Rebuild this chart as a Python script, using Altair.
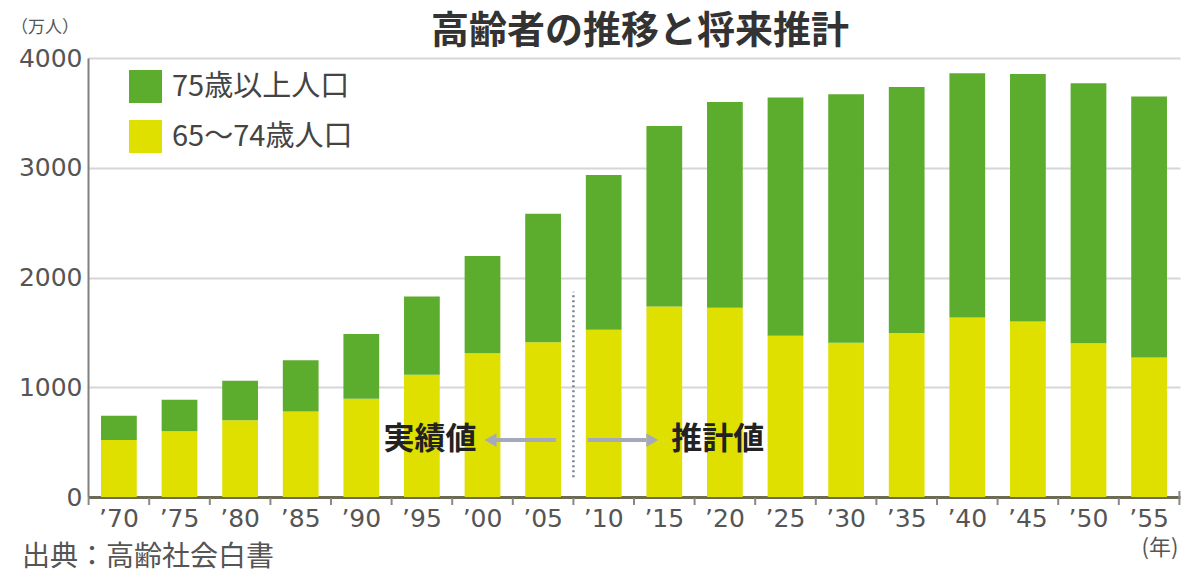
import altair as alt
import pandas as pd

# Elderly population of Japan (10,000 persons), actual up to 2005, projected after
years = ["’70", "’75", "’80", "’85", "’90", "’95", "’00", "’05", "’10",
         "’15", "’20", "’25", "’30", "’35", "’40", "’45", "’50", "’55"]
age_65_74 = [520, 600, 700, 780, 895, 1115, 1310, 1410, 1525,
             1735, 1725, 1470, 1405, 1495, 1635, 1600, 1400, 1270]
age_75_over = [220, 286, 360, 465, 590, 711, 885, 1170, 1410,
               1645, 1875, 2170, 2265, 2240, 2225, 2255, 2370, 2380]
series_names = ["75歳以上人口", "65〜74歳人口"]
series_colors = ["#5cac2e", "#dfe000"]
y_ticks = [0, 1000, 2000, 3000, 4000]

rows = []
for i, yr in enumerate(years):
    rows.append({"year": yr, "group": series_names[1], "value": age_65_74[i], "stack_rank": 0})
    rows.append({"year": yr, "group": series_names[0], "value": age_75_over[i], "stack_rank": 1})
bars_df = pd.DataFrame(rows)

JP = "Noto Sans CJK JP"
NUM = "DejaVu Sans"
ARROW = "#a4aabb"
PLOT_W, PLOT_H = 1092, 439
HALF_STEP = PLOT_W / (len(years) - 0.41 + 2 * 0.215) / 2

x_scale = alt.Scale(domain=years, paddingInner=0.41, paddingOuter=0.215)
y_scale = alt.Scale(domain=[0, 4000], nice=False)

bars = alt.Chart(bars_df).mark_bar().encode(
    x=alt.X("year:N", scale=x_scale, sort=years, title=None,
            axis=alt.Axis(title=None, labelAngle=0, labelFont=NUM, labelFontSize=25,
                          labelColor="#555", labelPadding=9, ticks=False,
                          domainColor="#6a6a55", domainWidth=3, grid=False)),
    y=alt.Y("value:Q", stack="zero", scale=y_scale, title=None,
            axis=alt.Axis(values=y_ticks, title=None, format="d", labelFont=NUM,
                          labelFontSize=25, labelColor="#555", labelPadding=6,
                          ticks=False, domainColor="#808080", domainWidth=2,
                          gridColor="#d6d6da", gridWidth=2)),
    color=alt.Color("group:N", scale=alt.Scale(domain=series_names, range=series_colors),
                    legend=alt.Legend(orient="none", legendX=41, legendY=12, title=None,
                                      symbolType="square", symbolSize=1089,
                                      symbolStrokeWidth=0, symbolOpacity=1,
                                      labelFont=JP, labelFontSize=29, labelColor="#444",
                                      labelLimit=400, labelOffset=10, rowPadding=17,
                                      padding=0)),
    order=alt.Order("stack_rank:Q", sort="ascending"),
)


def x_of(field):
    return alt.X(f"{field}:N", scale=x_scale, sort=years, title=None)


def y_of(field):
    return alt.Y(f"{field}:Q", scale=y_scale, title=None)


# x-axis ticks sit in the gaps between the bars
tick_df = pd.DataFrame({"year": years})
gap_ticks = alt.Chart(tick_df).mark_rule(color="#888", strokeWidth=2, xOffset=-HALF_STEP).encode(
    x=x_of("year"), y=alt.value(PLOT_H + 1), y2=alt.value(PLOT_H + 8))
end_tick = alt.Chart(pd.DataFrame({"year": [years[-1]]})).mark_rule(
    color="#888", strokeWidth=2, xOffset=HALF_STEP).encode(
    x=x_of("year"), y=alt.value(PLOT_H - 6), y2=alt.value(PLOT_H + 8))

# boundary between actual and projected values
split_df = pd.DataFrame({"year": ["’05"], "lo": [180], "hi": [1870]})
split = alt.Chart(split_df).mark_rule(strokeDash=[2, 3], color="#7c8292",
                                      strokeWidth=2.5, xOffset=HALF_STEP).encode(
    x=x_of("year"), y=y_of("lo"), y2="hi:Q",
)

arrow_level = 519
left_df = pd.DataFrame({"year": ["’00"], "year2": ["’05"], "level": [arrow_level]})
right_df = pd.DataFrame({"year": ["’10"], "year2": ["’15"], "level": [arrow_level]})

left_line = alt.Chart(left_df).mark_rule(color=ARROW, strokeWidth=4, xOffset=10, x2Offset=13).encode(
    x=x_of("year"), x2="year2:N", y=y_of("level"))
left_head = alt.Chart(left_df).mark_point(shape="triangle-left", filled=True, size=190,
                                          color=ARROW, opacity=1, xOffset=8).encode(
    x=x_of("year"), y=y_of("level"))
left_text = alt.Chart(left_df.assign(t="実績値")).mark_text(
    align="right", baseline="middle", font=JP, fontSize=31, fontWeight="bold",
    color="#222", xOffset=-6).encode(x=x_of("year"), y=y_of("level"), text="t:N")

right_line = alt.Chart(right_df).mark_rule(color=ARROW, strokeWidth=4, xOffset=-16, x2Offset=-18).encode(
    x=x_of("year"), x2="year2:N", y=y_of("level"))
right_head = alt.Chart(right_df).mark_point(shape="triangle-right", filled=True, size=190,
                                            color=ARROW, opacity=1, xOffset=-12).encode(
    x=x_of("year2"), y=y_of("level"))
right_text = alt.Chart(right_df.assign(t="推計値")).mark_text(
    align="left", baseline="middle", font=JP, fontSize=31, fontWeight="bold",
    color="#222", xOffset=7).encode(x=x_of("year2"), y=y_of("level"), text="t:N")


def caption(text, x, y, size, align="center", weight="normal", color="#555"):
    return alt.Chart(pd.DataFrame({"t": [text]})).mark_text(
        align=align, baseline="middle", font=JP, fontSize=size, fontWeight=weight,
        color=color).encode(x=alt.value(x), y=alt.value(y), text="t:N")


title = caption("高齢者の推移と将来推計", 552, -26, 38, weight="bold", color="#333")
unit_y = caption("（万人）", -43, -30, 17)
unit_x = caption("(年)", 1072, 490, 22)
source = caption("出典：高齢社会白書", -66, 500, 28, align="left")

chart = alt.layer(
    bars, gap_ticks, end_tick, split, left_line, left_head, left_text,
    right_line, right_head, right_text, title, unit_y, unit_x, source,
).properties(
    width=PLOT_W, height=PLOT_H,
    autosize=alt.AutoSizeParams(type="none"),
    padding={"left": 88, "top": 58, "right": 20, "bottom": 86},
    background="white",
).configure_view(stroke=None)

chart.save("out.html", embed_options={"renderer": "svg", "actions": False})
